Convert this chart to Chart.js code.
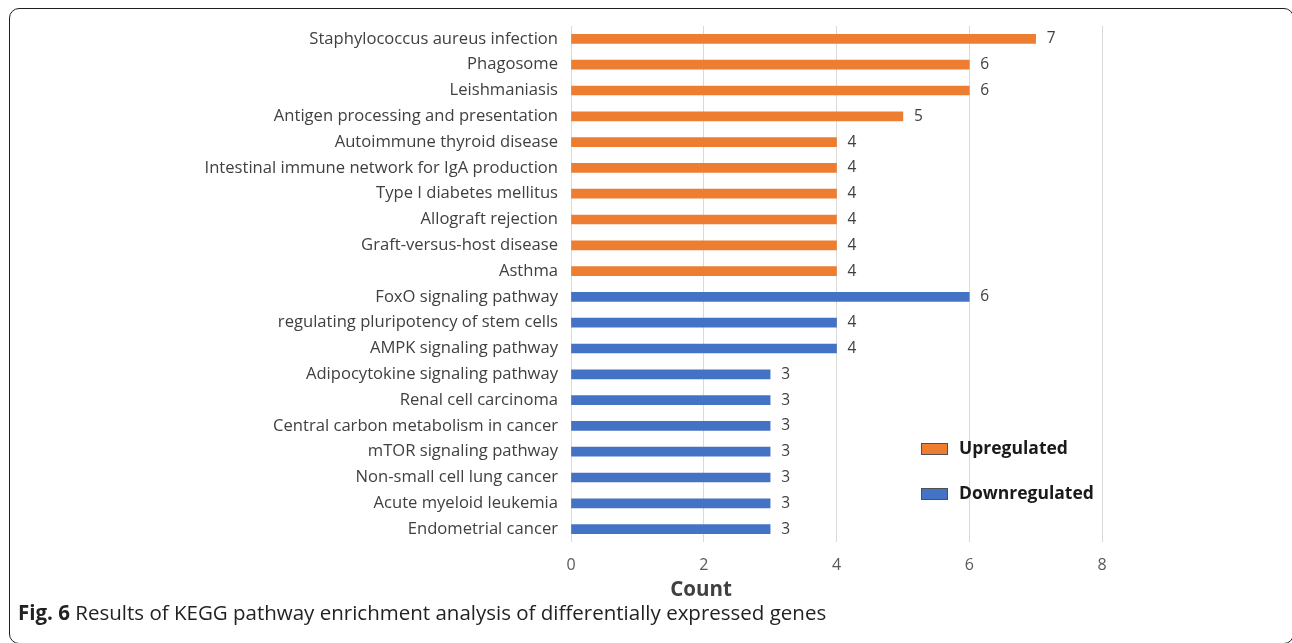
<!DOCTYPE html>
<html>
<head>
<meta charset="utf-8">
<script src="https://cdn.jsdelivr.net/npm/chart.js@4.4.1/dist/chart.umd.min.js"></script>
<style>
  html, body { margin: 0; padding: 0; background: #fff; }
  #wrap { position: relative; width: 1292px; height: 643px; overflow: hidden; }
  #frame {
    position: absolute; left: 9px; top: 8px; width: 1285px; height: 636px;
    border: 1.5px solid #1e1e1e; border-radius: 10px; box-sizing: border-box;
  }
  #chart { position: absolute; left: 0; top: 0; }
  #caption {
    position: absolute; left: 18px; top: 597px;
    font-family: "Open Sans", sans-serif; font-size: 20.5px; line-height: 30px; color: #222;
    white-space: nowrap;
  }
  #caption b { font-weight: 700; }
</style>
</head>
<body>
<div id="wrap">
  <div id="frame"></div>
  <canvas id="chart" width="1292" height="643"></canvas>
  <div id="caption"><b>Fig. 6</b> Results of KEGG pathway enrichment analysis of differentially expressed genes</div>
</div>
<script>
// KEGG pathways, top to bottom
const pathways = [
  "Staphylococcus aureus infection",
  "Phagosome",
  "Leishmaniasis",
  "Antigen processing and presentation",
  "Autoimmune thyroid disease",
  "Intestinal immune network for IgA production",
  "Type I diabetes mellitus",
  "Allograft rejection",
  "Graft-versus-host disease",
  "Asthma",
  "FoxO signaling pathway",
  "regulating pluripotency of stem cells",
  "AMPK signaling pathway",
  "Adipocytokine signaling pathway",
  "Renal cell carcinoma",
  "Central carbon metabolism in cancer",
  "mTOR signaling pathway",
  "Non-small cell lung cancer",
  "Acute myeloid leukemia",
  "Endometrial cancer"
];

// gene counts per pathway (null where the pathway belongs to the other group)
const upregulated = [7, 6, 6, 5, 4, 4, 4, 4, 4, 4,
                     null, null, null, null, null, null, null, null, null, null];
const downregulated = [null, null, null, null, null, null, null, null, null, null,
                       6, 4, 4, 3, 3, 3, 3, 3, 3, 3];

const xTicks = [0, 2, 4, 6, 8];
const axisTitle = "Count";

const ORANGE = "#ED7D31";
const BLUE = "#4472C4";
const FONT = "'Open Sans', sans-serif";

// count printed just past the end of each bar
const valueLabels = {
  id: "valueLabels",
  afterDatasetsDraw(chart) {
    const ctx = chart.ctx;
    ctx.save();
    ctx.font = "15.5px " + FONT;
    ctx.fillStyle = "#404040";
    ctx.textAlign = "left";
    ctx.textBaseline = "middle";
    chart.data.datasets.forEach((ds, di) => {
      const meta = chart.getDatasetMeta(di);
      meta.data.forEach((bar, i) => {
        const v = ds.data[i];
        if (v === null || v === undefined) return;
        ctx.fillText(String(v), bar.x + 11, bar.y);
      });
    });
    ctx.restore();
  }
};

// legend boxes inside the plot and the axis title under the ticks
const extras = {
  id: "extras",
  afterDraw(chart) {
    const ctx = chart.ctx;
    ctx.save();
    const items = chart.data.datasets;
    const rows = [449, 494];
    items.forEach((ds, i) => {
      const y = rows[i];
      ctx.fillStyle = ds.backgroundColor;
      ctx.fillRect(921, y - 6, 27, 12);
      ctx.strokeStyle = "#505050";
      ctx.lineWidth = 1;
      ctx.strokeRect(921.5, y - 5.5, 26, 11);
      ctx.font = "bold 17.5px " + FONT;
      ctx.fillStyle = "#1a1a1a";
      ctx.textAlign = "left";
      ctx.textBaseline = "middle";
      ctx.fillText(ds.label, 959, y);
    });
    ctx.font = "bold 20.5px " + FONT;
    ctx.fillStyle = "#404040";
    ctx.textAlign = "center";
    ctx.textBaseline = "middle";
    ctx.fillText(axisTitle, 701, 590);
    ctx.restore();
  }
};

new Chart(document.getElementById("chart"), {
  type: "bar",
  data: {
    labels: pathways,
    datasets: [
      { label: "Upregulated", data: upregulated, backgroundColor: ORANGE, barThickness: 9 },
      { label: "Downregulated", data: downregulated, backgroundColor: BLUE, barThickness: 9 }
    ]
  },
  options: {
    indexAxis: "y",
    responsive: false,
    animation: false,
    layout: { padding: { left: 0, top: 26, right: 190, bottom: 0 } },
    plugins: { legend: { display: false }, tooltip: { enabled: false } },
    scales: {
      x: {
        min: 0, max: 8,
        afterBuildTicks(scale) { scale.ticks = xTicks.map(v => ({ value: v })); },
        afterFit(scale) { scale.height = 101; },
        grid: { color: "#d9d9d9", lineWidth: 1, drawTicks: false },
        border: { display: false },
        ticks: { padding: 14, color: "#595959", font: { family: FONT, size: 16 } }
      },
      y: {
        stacked: true,
        afterFit(scale) { scale.width = 571; },
        grid: { display: false, drawTicks: false },
        border: { display: false },
        ticks: { padding: 13, color: "#404040", font: { family: FONT, size: 16.6 } }
      }
    }
  },
  plugins: [valueLabels, extras]
});
</script>
</body>
</html>
